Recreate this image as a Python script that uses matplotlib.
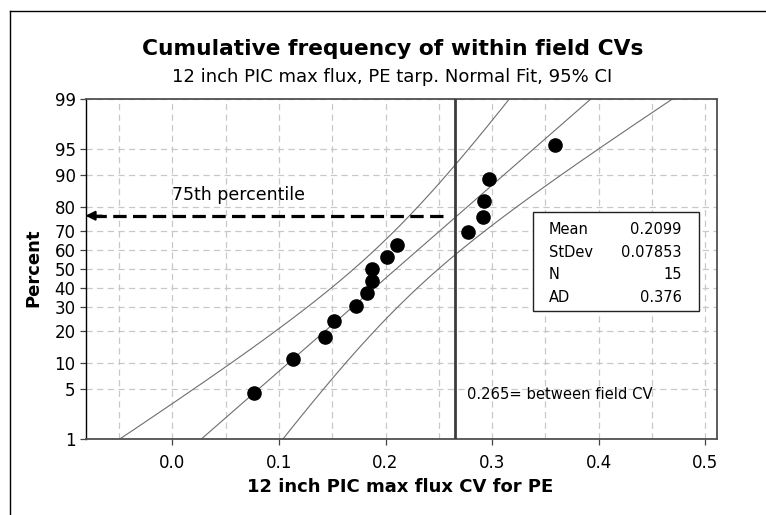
import numpy as np
import matplotlib
matplotlib.use('Agg')
import matplotlib.pyplot as plt
from matplotlib.lines import Line2D
from matplotlib.patches import Rectangle
from statistics import NormalDist

# CV values (x) and their plotted percent positions (y)
cv_values = [0.0764, 0.1136, 0.1432, 0.1514, 0.1723, 0.1823, 0.1873, 0.1873,
             0.2013, 0.2104, 0.2775, 0.2913, 0.2926, 0.2966, 0.3588]
percents = [4.5, 11.0, 17.5, 24.0, 30.5, 37.0, 43.5, 50.0,
            56.5, 63.0, 69.5, 76.0, 82.5, 89.0, 95.5]

# fitted normal parameters shown in the stats box
fit_mean = 0.2099
fit_sd = 0.07853
n_obs = 15
ad_stat = 0.376

between_cv = 0.265
pct75_arrow_y = 76.7
pct75_arrow_x = 0.2535

y_ticks = [1, 5, 10, 20, 30, 40, 50, 60, 70, 80, 90, 95, 99]
x_ticks = [0.0, 0.1, 0.2, 0.3, 0.4, 0.5]

_nd = NormalDist()


def _ppf_one(p):
    if np.isnan(p):
        return np.nan
    return _nd.inv_cdf(min(max(p / 100.0, 1e-9), 1 - 1e-9))


def _cdf_one(z):
    if np.isnan(z):
        return np.nan
    return _nd.cdf(z) * 100.0


_ppf = np.vectorize(_ppf_one, otypes=[float])
_cdf = np.vectorize(_cdf_one, otypes=[float])


def prob_forward(p):
    return _ppf(np.asarray(p, dtype=float))


def prob_inverse(z):
    return _cdf(np.asarray(z, dtype=float))


fig = plt.figure(figsize=(7.66, 5.15), dpi=100)
ax = fig.add_axes([85.5 / 766, 1 - 439 / 515, (716.5 - 85.5) / 766, (439 - 99) / 515])
ax.set_yscale('function', functions=(prob_forward, prob_inverse))

# fit line and 95% confidence bands
p_grid = np.linspace(0.5, 99.5, 200)
z_grid = prob_forward(p_grid)
x_fit = fit_mean + fit_sd * z_grid
half = 1.96 * fit_sd * np.sqrt(1.0 / n_obs + z_grid ** 2 / (2.0 * n_obs))
for xs in (x_fit, x_fit - half, x_fit + half):
    ax.plot(xs, p_grid, color='#6e6e6e', lw=0.8, zorder=2)

ax.axvline(between_cv, color='#3c3c3c', lw=2.0, zorder=3)

ax.plot(cv_values, percents, 'o', color='black', ms=9.5, zorder=5)

# dashed 75th percentile arrow
ax.plot([pct75_arrow_x, -0.074], [pct75_arrow_y, pct75_arrow_y], color='black',
        lw=2.3, dashes=(4.2, 2.0), zorder=4, solid_capstyle='butt')
ax.annotate('', xy=(-0.0815, pct75_arrow_y), xytext=(-0.066, pct75_arrow_y),
            arrowprops=dict(arrowstyle='-|>', color='black', lw=1.5,
                            mutation_scale=14, shrinkA=0, shrinkB=0), zorder=4)
ax.text(-0.0005, 84.3, '75th percentile', fontsize=12.5, ha='left', va='center')

ax.text(between_cv + 0.0115, 4.3, '0.265= between field CV', fontsize=10.6,
        ha='left', va='center')

ax.set_xlim(-0.0815, 0.5105)
ax.set_ylim(1, 99)
ax.set_xticks(x_ticks)
ax.set_xticks(np.arange(-0.05, 0.5, 0.1), minor=True)
ax.set_xticklabels([f'{t:.1f}' for t in x_ticks])
ax.set_yticks(y_ticks)
ax.set_yticklabels([str(t) for t in y_ticks])
ax.yaxis.set_minor_locator(matplotlib.ticker.NullLocator())
ax.tick_params(axis='both', which='major', labelsize=12, length=4.2, width=0.9,
               color='#444444')
ax.tick_params(axis='x', which='major', pad=6.5)
ax.tick_params(axis='y', which='major', pad=3)
ax.tick_params(axis='x', which='minor', length=0)

ax.grid(True, axis='x', which='both', color='#c8c8c8', linestyle=(0, (5, 3.5)), lw=0.9)
ax.grid(True, axis='y', which='major', color='#c8c8c8', linestyle=(0, (5, 3.5)), lw=0.9)
ax.set_axisbelow(True)

for side in ['top', 'right', 'bottom']:
    ax.spines[side].set_color('#505050')
    ax.spines[side].set_linewidth(1.3)
ax.spines['left'].set_color('black')
ax.spines['left'].set_linewidth(1.0)

# stats box
fig.patches.append(Rectangle(
    (532.7 / 766, 1 - 310.7 / 515), (699.3 - 532.7) / 766, (310.7 - 212.3) / 515,
    transform=fig.transFigure, facecolor='white', edgecolor='#222222', lw=1.0,
    zorder=10, figure=fig))
stat_names = ['Mean', 'StDev', 'N', 'AD']
stat_vals = [f'{fit_mean:.4f}', f'{fit_sd:.5f}', str(n_obs), f'{ad_stat:.3f}']
row_y = [230, 252.3, 274.5, 297.5]
for name, val, ry in zip(stat_names, stat_vals, row_y):
    fig.text(549 / 766, 1 - ry / 515, name, fontsize=10.5, ha='left', va='center', zorder=11)
    fig.text(681.7 / 766, 1 - ry / 515, val, fontsize=10.5, ha='right', va='center', zorder=11)

fig.text(392.5 / 766, 1 - 55 / 515, 'Cumulative frequency of within field CVs',
         fontsize=15.7, fontweight='bold', ha='center', va='baseline')
fig.text(392 / 766, 1 - 82.3 / 515, '12 inch PIC max flux, PE tarp. Normal Fit, 95% CI',
         fontsize=13, ha='center', va='baseline')
fig.text(400.5 / 766, 1 - 486.7 / 515, '12 inch PIC max flux CV for PE',
         fontsize=13, fontweight='bold', ha='center', va='center')
fig.text(33 / 766, 1 - 268 / 515, 'Percent', fontsize=13, fontweight='bold',
         rotation=90, ha='center', va='center')

# outer frame (left and top edges)
fig.add_artist(Line2D([9.5 / 766, 9.5 / 766], [0, 1 - 11 / 515], color='black', lw=1.0,
                      transform=fig.transFigure))
fig.add_artist(Line2D([9.5 / 766, 1], [1 - 11 / 515, 1 - 11 / 515], color='black', lw=1.0,
                      transform=fig.transFigure))

fig.savefig('out.png', dpi=100)
